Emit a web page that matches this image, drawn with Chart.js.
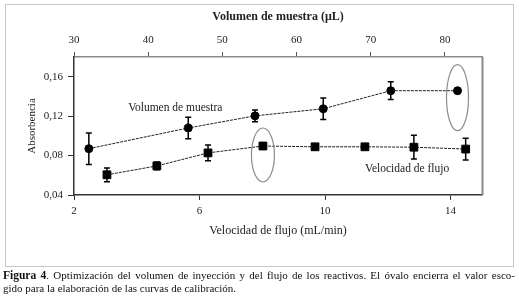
<!DOCTYPE html>
<html lang="es">
<head>
<meta charset="UTF-8">
<title>Figura 4</title>
<script src="https://cdn.jsdelivr.net/npm/chart.js@4.4.0/dist/chart.umd.min.js"></script>
<style>
  body { margin: 0; background: #fff; }
  #wrap { position: relative; width: 519px; height: 305px; }
  #frame { position: absolute; left: 5px; top: 4px; width: 507px; height: 261px; border: 1px solid #c8c8c8; pointer-events: none; }
  #chartBox { position: absolute; left: 0; top: 0; width: 519px; height: 268px; }
  #caption { position: absolute; left: 3px; top: 269px; width: 512px; font: 11px "Liberation Serif", serif; line-height: 13px; color: #111; }
  #caption .l1 { display: block; text-align: justify; text-align-last: justify; }
  #caption b { font-size: 11.5px; }
</style>
</head>
<body>
<div id="wrap">
  <div id="chartBox"><canvas id="myChart" width="519" height="268"></canvas></div>
  <div id="frame"></div>
  <div id="caption">
    <span class="l1"><b>Figura 4</b>. Optimización del volumen de inyección y del flujo de los reactivos. El óvalo encierra el valor esco-</span>
    gido para la elaboración de las curvas de calibración.
  </div>
</div>
<script>
// volumen de muestra (uL) -> eje superior
const volumenX = [32, 45.4, 54.4, 63.6, 72.7, 81.7];
const volumenAbs = [0.087, 0.108, 0.1203, 0.1275, 0.1458, 0.1458];
const volumenErr = [0.016, 0.011, 0.006, 0.011, 0.009, 0];

// velocidad de flujo (mL/min) -> eje inferior
const flujoX = [3.05, 4.64, 6.27, 8.02, 9.68, 11.27, 12.83, 14.48];
const flujoAbs = [0.0605, 0.0695, 0.0827, 0.0897, 0.0889, 0.0889, 0.0885, 0.0866];
const flujoErr = [0.007, 0.004, 0.008, 0.003, 0, 0, 0.012, 0.011];

// tick labels
const yTicks = [0.04, 0.08, 0.12, 0.16];
const xBottomTicks = [2, 6, 10, 14];
const xTopTicks = [30, 40, 50, 60, 70, 80];

Chart.defaults.font.family = "'Liberation Serif', serif";
Chart.defaults.color = '#222';

function fixedTicks(list) {
  return function(scale) { scale.ticks = list.map(v => ({ value: v })); };
}

// error bars, ovals, right border and in-plot labels
const extras = {
  id: 'extras',
  beforeDatasetsDraw(chart) {
    const a = chart.chartArea, ctx = chart.ctx;
    ctx.save();
    ctx.strokeStyle = '#8a8a8a';
    ctx.lineWidth = 2;
    ctx.beginPath();
    ctx.moveTo(a.right + 0.5, a.top);
    ctx.lineTo(a.right + 0.5, a.bottom);
    ctx.stroke();
    ctx.restore();
  },
  afterDatasetsDraw(chart) {
    const ctx = chart.ctx, y = chart.scales.y;
    const errs = [volumenErr, flujoErr];
    ctx.save();
    ctx.strokeStyle = '#000';
    ctx.lineWidth = 1.5;
    chart.data.datasets.forEach((ds, d) => {
      chart.getDatasetMeta(d).data.forEach((pt, i) => {
        const e = errs[d][i];
        if (!e) return;
        const v = ds.data[i].y;
        const y1 = y.getPixelForValue(v + e), y2 = y.getPixelForValue(v - e);
        ctx.beginPath();
        ctx.moveTo(pt.x, y1); ctx.lineTo(pt.x, y2);
        ctx.moveTo(pt.x - 3, y1); ctx.lineTo(pt.x + 3, y1);
        ctx.moveTo(pt.x - 3, y2); ctx.lineTo(pt.x + 3, y2);
        ctx.stroke();
      });
    });
    // ovals around chosen values
    ctx.strokeStyle = '#8c8c8c';
    ctx.lineWidth = 1.2;
    const ovals = [[0, 5, 11, 33, 7], [1, 3, 11.5, 27, 9]];
    ovals.forEach(([d, i, rx, ry, dy]) => {
      const pt = chart.getDatasetMeta(d).data[i];
      ctx.beginPath();
      ctx.ellipse(pt.x, pt.y + dy, rx, ry, 0, 0, Math.PI * 2);
      ctx.stroke();
    });
    // series labels
    ctx.fillStyle = '#222';
    ctx.font = "11.5px 'Liberation Serif', serif";
    ctx.textBaseline = 'middle';
    ctx.textAlign = 'left';
    ctx.fillText('Volumen de muestra', chart.scales.xTop.getPixelForValue(37.3), y.getPixelForValue(0.1285));
    ctx.fillText('Velocidad de flujo', chart.scales.x.getPixelForValue(11.27), y.getPixelForValue(0.0665));
    ctx.restore();
  }
};

const commaFmt = v => String(v).replace('.', ',');

new Chart(document.getElementById('myChart'), {
  type: 'scatter',
  data: {
    datasets: [
      {
        label: 'Volumen de muestra',
        data: volumenX.map((x, i) => ({ x: x, y: volumenAbs[i] })),
        xAxisID: 'xTop', yAxisID: 'y',
        showLine: true,
        borderColor: '#222', borderWidth: 1, borderDash: [3, 1],
        pointStyle: 'circle', pointRadius: 4, pointBackgroundColor: '#000', pointBorderColor: '#000'
      },
      {
        label: 'Velocidad de flujo',
        data: flujoX.map((x, i) => ({ x: x, y: flujoAbs[i] })),
        xAxisID: 'x', yAxisID: 'y',
        showLine: true,
        borderColor: '#222', borderWidth: 1, borderDash: [3, 1],
        pointStyle: 'rect', pointRadius: 5.5, pointBackgroundColor: '#000', pointBorderColor: '#000'
      }
    ]
  },
  options: {
    responsive: false,
    animation: false,
    layout: { padding: { left: 0, top: 0, right: 37, bottom: 0 } },
    plugins: { legend: { display: false }, tooltip: { enabled: false } },
    scales: {
      x: {
        type: 'linear', position: 'bottom', min: 2, max: 15,
        afterBuildTicks: fixedTicks(xBottomTicks),
        afterFit(s) { s.height = 73; },
        grid: { drawOnChartArea: false, tickLength: 5, color: '#333' },
        border: { color: '#333', width: 1.5 },
        ticks: { padding: 5, font: { size: 11 }, maxRotation: 0 },
        title: { display: true, text: 'Velocidad de flujo (mL/min)', font: { size: 12 }, padding: { top: 0, bottom: 30 } }
      },
      xTop: {
        type: 'linear', position: 'top', min: 30, max: 85,
        afterBuildTicks: fixedTicks(xTopTicks),
        afterFit(s) { s.height = 57; },
        grid: { drawOnChartArea: false, tickLength: 5, color: '#555' },
        border: { color: '#8a8a8a', width: 1.5 },
        ticks: { padding: 5, font: { size: 11 }, maxRotation: 0 },
        title: { display: true, text: 'Volumen de muestra (\u03bcL)', font: { size: 12, weight: 'bold' }, padding: { top: 10, bottom: 0 } }
      },
      y: {
        type: 'linear', position: 'left', min: 0.04, max: 0.18,
        afterBuildTicks: fixedTicks(yTicks),
        afterFit(s) { s.width = 74; },
        grid: { drawOnChartArea: false, tickLength: 6, color: '#333' },
        border: { color: '#333', width: 1.5 },
        ticks: { padding: 5, font: { size: 11 }, callback: v => commaFmt(v) },
        title: { display: true, text: 'Absorbencia', font: { size: 11 }, padding: { top: 26, bottom: 0 } }
      }
    }
  },
  plugins: [extras]
});
</script>
</body>
</html>
